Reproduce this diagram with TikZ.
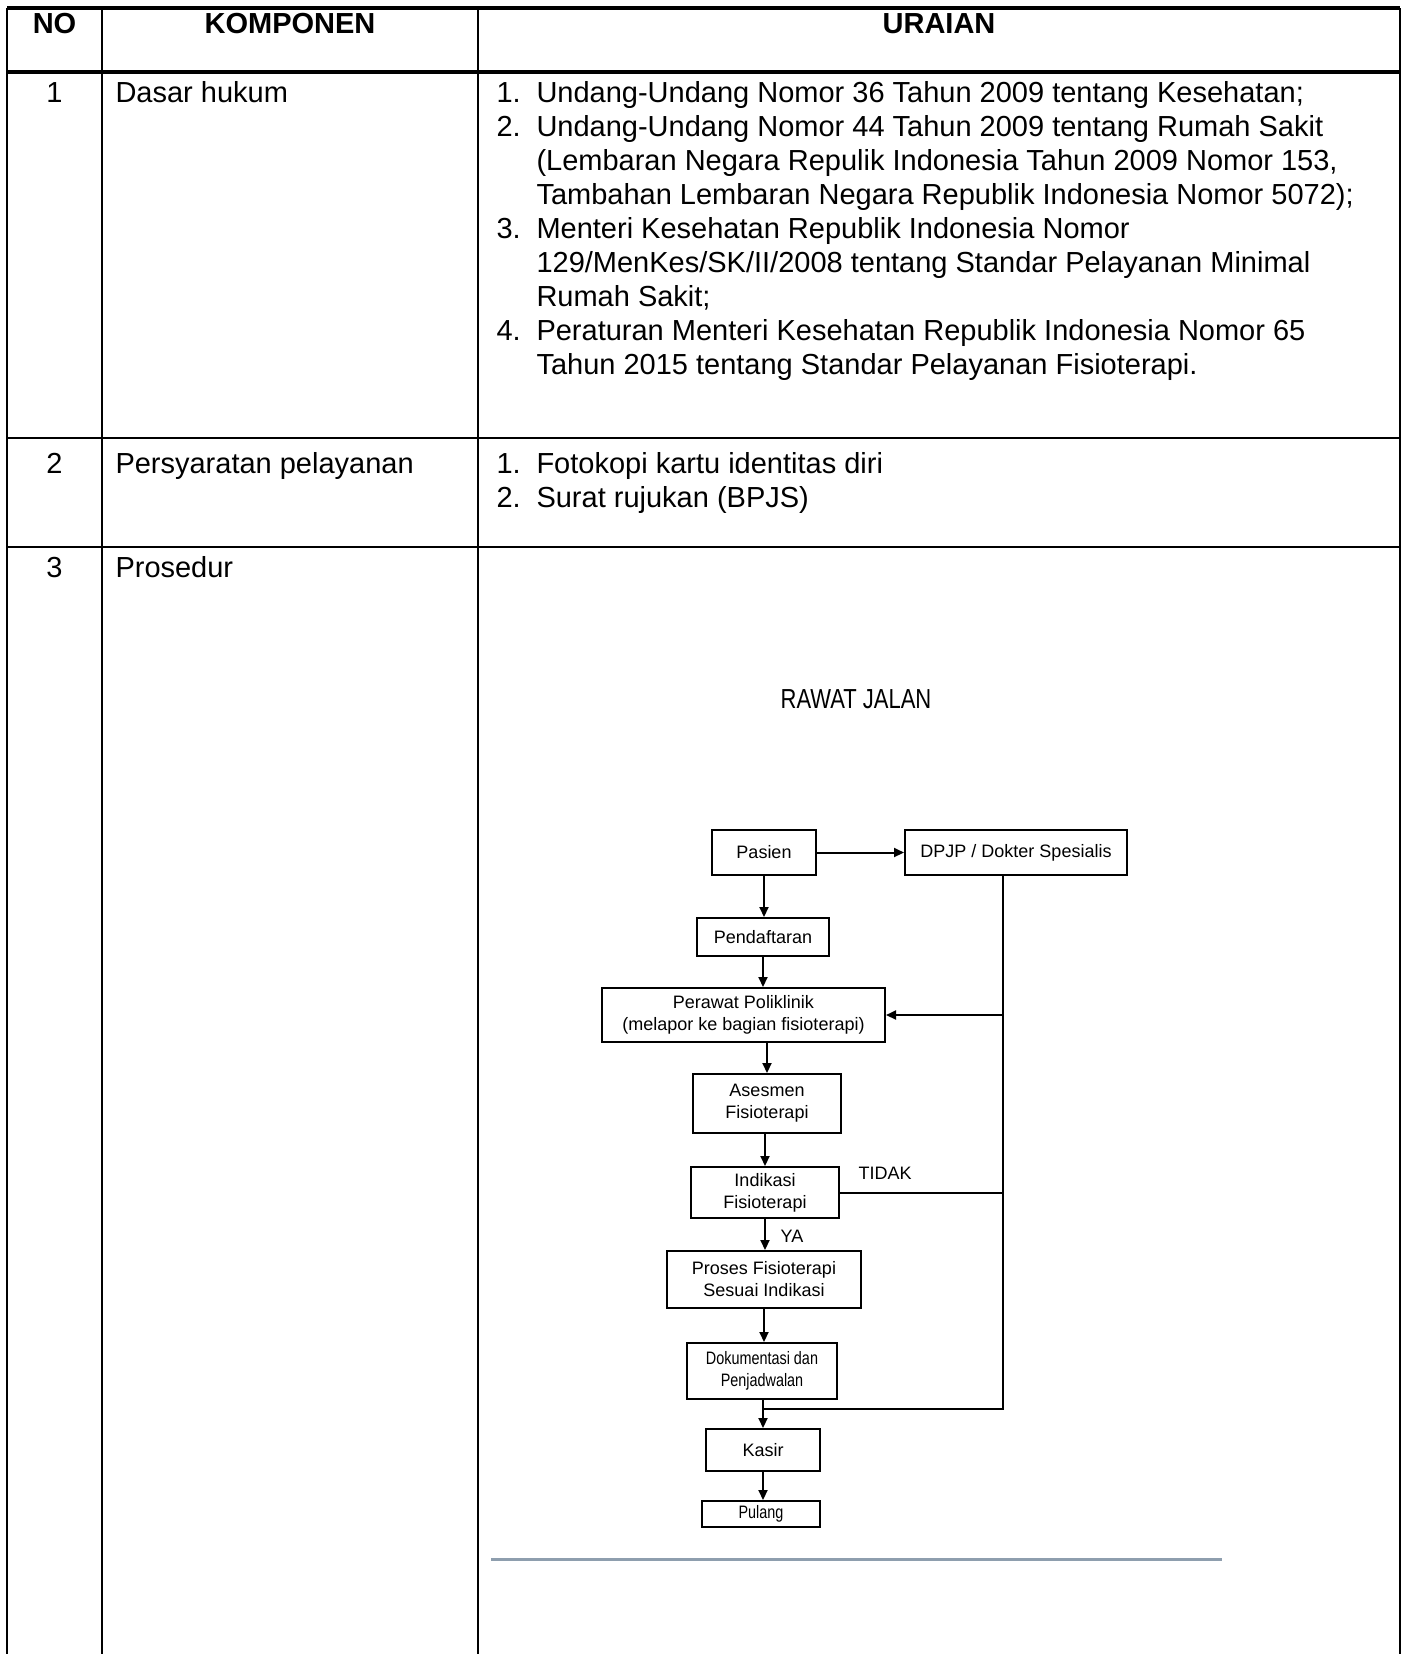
\documentclass[tikz,border=0pt]{standalone}
\usepackage{fontspec}
\setmainfont{Liberation Sans}
\newfontfamily\narrowfont[FakeStretch=0.8]{Liberation Sans}
\usetikzlibrary{arrows.meta,positioning}
\definecolor{sepgrey}{HTML}{8E9EAE}
\tikzset{
  rule/.style={line width=0.8pt},
  thickrule/.style={line width=1.3pt},
  cell/.style={anchor=base west, inner sep=0pt, align=left, font=\fontsize{11.6}{13.6}\selectfont},
  headcell/.style={anchor=base, inner sep=0pt, font=\fontsize{11.6}{13.6}\selectfont\bfseries},
  flowbox/.style={draw, line width=0.8pt, align=center, inner sep=0pt, font=\fontsize{7.2}{8.8}\selectfont},
  flowarrow/.style={line width=0.8pt, -{Triangle[length=4pt,width=3.6pt]}},
  flowline/.style={line width=0.8pt},
  flowlabel/.style={inner sep=0pt, font=\fontsize{7.2}{8.8}\selectfont}
}

\begin{document}
\begin{tikzpicture}[x=0.4pt,y=-0.4pt]
\useasboundingbox (0,0) rectangle (1406,1654);
% table rules
\draw[thickrule] (7,8)--(1400,8);
\draw[thickrule] (7,72)--(1400,72);
\draw[rule] (7,438)--(1400,438);
\draw[rule] (7,547)--(1400,547);
\draw[rule] (7,8)--(7,1654);
\draw[rule] (102,8)--(102,1654);
\draw[rule] (478,8)--(478,1654);
\draw[rule] (1400,8)--(1400,1654);

% header
\node[headcell] (hno) at (54.5,33) {NO};
\node[headcell] (hkomp) at (290,33) {KOMPONEN};
\node[headcell] (hurai) at (939,33) {URAIAN};

% row 1 (multi-line cells sit on their last baseline)
\node[cell, anchor=base] (no1) at (54.5,102) {1};
\node[cell] (komp1) at (115,102) {Dasar hukum};
\node[cell] (n11) at (496,102) {1.};
\node[cell] (u11) at (536,102) {Undang-Undang Nomor 36 Tahun 2009 tentang Kesehatan;};
\node[cell] (n12) at (496,136) {2.};
\node[cell] (u12) at (536,204) {Undang-Undang Nomor 44 Tahun 2009 tentang Rumah Sakit\\(Lembaran Negara Repulik Indonesia Tahun 2009 Nomor 153,\\Tambahan Lembaran Negara Republik Indonesia Nomor 5072);};
\node[cell] (n13) at (496,238) {3.};
\node[cell] (u13) at (536,306) {Menteri Kesehatan Republik Indonesia Nomor\\129/MenKes/SK/II/2008 tentang Standar Pelayanan Minimal\\Rumah Sakit;};
\node[cell] (n14) at (496,340) {4.};
\node[cell] (u14) at (536,374) {Peraturan Menteri Kesehatan Republik Indonesia Nomor 65\\Tahun 2015 tentang Standar Pelayanan Fisioterapi.};

% row 2
\node[cell, anchor=base] (no2) at (54.5,473) {2};
\node[cell] (komp2) at (115,473) {Persyaratan pelayanan};
\node[cell] (n21) at (496,473) {1.};
\node[cell] (u21) at (536,473) {Fotokopi kartu identitas diri};
\node[cell] (n22) at (496,507) {2.};
\node[cell] (u22) at (536,507) {Surat rujukan (BPJS)};

% row 3
\node[cell, anchor=base] (no3) at (54.5,577) {3};
\node[cell] (komp3) at (115,577) {Prosedur};

% flowchart
\node[inner sep=0pt, font=\narrowfont\fontsize{11}{13}\selectfont] (title) at (856,699) {RAWAT JALAN};
\node[flowbox, minimum width=41.6pt, minimum height=18pt] (pasien) at (764,852.5) {Pasien};
\node[flowbox, minimum width=88.8pt, minimum height=18pt] (dpjp) at (1016,852.5) {DPJP / Dokter Spesialis};
\node[flowbox, minimum width=52.8pt, minimum height=15.2pt] (daftar) at (763,937) {Pendaftaran};
\node[flowbox, minimum width=113.2pt, minimum height=21.6pt] (perawat) at (743.5,1015) {Perawat Poliklinik\\(melapor ke bagian fisioterapi)};
\node[flowbox, minimum width=59.2pt, minimum height=23.6pt] (asesmen) at (767,1103.5) {Asesmen\\Fisioterapi};
\node[flowbox, minimum width=59.2pt, minimum height=20.4pt] (indikasi) at (765,1192.5) {Indikasi\\Fisioterapi};
\node[flowbox, minimum width=77.6pt, minimum height=22.8pt] (proses) at (764,1279.5) {Proses Fisioterapi\\Sesuai Indikasi};
\node[flowbox, minimum width=60pt, minimum height=22.4pt, font=\narrowfont\fontsize{7.2}{8.8}\selectfont] (dokumen) at (762,1371) {Dokumentasi dan\\Penjadwalan};
\node[flowbox, minimum width=45.6pt, minimum height=16.8pt] (kasir) at (763,1450) {Kasir};
\node[flowbox, minimum width=47.2pt, minimum height=10.4pt, font=\narrowfont\fontsize{7.2}{8.8}\selectfont] (pulang) at (761,1514) {Pulang};

\draw[flowarrow] (pasien.east) -- (dpjp.west);
\draw[flowarrow] (pasien.south) -- (pasien.south |- daftar.north);
\draw[flowarrow] (daftar.south) -- (daftar.south |- perawat.north);
\draw[flowarrow] (asesmen.north |- perawat.south) -- (asesmen.north);
\draw[flowarrow] (indikasi.north |- asesmen.south) -- (indikasi.north);
\draw[flowarrow] (indikasi.south) -- (indikasi.south |- proses.north);
\draw[flowarrow] (proses.south) -- (proses.south |- dokumen.north);
\draw[flowarrow] (kasir.north |- dokumen.south) -- (kasir.north);
\draw[flowarrow] (kasir.south) -- (kasir.south |- pulang.north);

% return line from DPJP
\coordinate (spine) at (1003,875);
\coordinate (spineend) at (1003,1409);
\draw[flowline] (spine) -- (spineend) -- (kasir.north |- spineend);
\draw[flowarrow] (spine |- perawat.east) -- (perawat.east);
\draw[flowline] (indikasi.east) -- (indikasi.east -| spine);
\node[flowlabel] (tidak) at (885,1173) {TIDAK};
\node[flowlabel] (ya) at (792,1236) {YA};

\draw[line width=1.2pt, sepgrey] (491,1559) -- (1222,1559);
\end{tikzpicture}
\end{document}
